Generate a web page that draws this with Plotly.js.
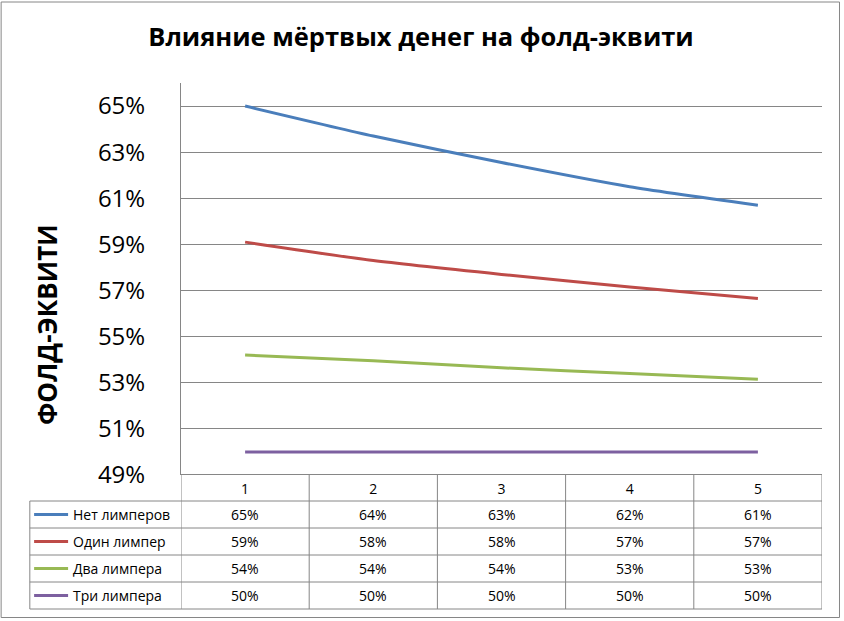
<!DOCTYPE html>
<html>
<head>
<meta charset="utf-8">
<script src="https://cdn.plot.ly/plotly-3.0.1.min.js"></script>
<style>
  html, body { margin: 0; padding: 0; background: #fff; }
  #chart { width: 844px; height: 621px; }
</style>
</head>
<body>
<div id="chart"></div>
<script>
// Chart values.
var categories = ['1', '2', '3', '4', '5'];
var seriesNames = ['Нет лимперов', 'Один лимпер', 'Два лимпера', 'Три лимпера'];
var noLimpers = [65.0, 63.7, 62.55, 61.5, 60.7];
var oneLimper = [59.1, 58.3, 57.7, 57.15, 56.65];
var twoLimpers = [54.2, 53.95, 53.65, 53.4, 53.15];
var threeLimpers = [50.0, 50.0, 50.0, 50.0, 50.0];
var yTicks = [49, 51, 53, 55, 57, 59, 61, 63, 65];
var yTickText = ['49%', '51%', '53%', '55%', '57%', '59%', '61%', '63%', '65%'];

var seriesValues = [noLimpers, oneLimper, twoLimpers, threeLimpers];
var seriesColors = ['#4a7ebb', '#be4b48', '#98b954', '#7d60a0'];

var FONT = '"Open Sans", "Noto Sans", sans-serif';
var GRID = '#868686';

// Plot area in pixels (the data table sits under it, in the bottom margin).
var W = 844, H = 621;
var plotLeft = 181, plotRight = 822.5, plotTop = 83, plotBottom = 475;
var plotW = plotRight - plotLeft, plotH = plotBottom - plotTop;

function px(p) { return (p - plotLeft) / plotW; }   // pixel x -> paper x
function py(p) { return (plotBottom - p) / plotH; } // pixel y -> paper y

var tableLeft = 29.7;
var headerTop = 474.5, rowH = 27;
var rowTops = [501, 528, 555, 582, 609];

var xs = categories.map(function (c, i) { return i + 1; });

var data = [];
for (var i = 0; i < seriesValues.length; i++) {
    data.push({
        x: xs,
        y: seriesValues[i],
        name: seriesNames[i],
        type: 'scatter',
        mode: 'lines',
        line: { color: seriesColors[i], width: 3, shape: 'spline', smoothing: 0.6 },
        hoverinfo: 'skip'
    });
}

var shapes = [];
var annotations = [];

function gridLine(xref, x0, x1, y0, y1) {
    shapes.push({ type: 'line', xref: xref, yref: 'paper', x0: x0, x1: x1, y0: y0, y1: y1,
        line: { color: GRID, width: 1 } });
}

// Table grid: header row covers the category columns only
for (var k = 0; k <= categories.length; k++) {
    gridLine('x', k + 0.5, k + 0.5, py(headerTop), py(rowTops[rowTops.length - 1]));
}
gridLine('paper', px(tableLeft), px(tableLeft), py(rowTops[0]), py(rowTops[rowTops.length - 1]));
gridLine('x', 0.5, categories.length + 0.5, py(headerTop), py(headerTop));
for (var r = 0; r < rowTops.length; r++) {
    gridLine('paper', px(tableLeft), 1, py(rowTops[r]), py(rowTops[r]));
}

// Table body: legend keys, series names and values
for (var s = 0; s < seriesValues.length; s++) {
    var yc = py(rowTops[s] + rowH / 2);
    shapes.push({ type: 'line', xref: 'paper', yref: 'paper', x0: px(34), x1: px(68), y0: yc, y1: yc,
        line: { color: seriesColors[s], width: 3 } });
    annotations.push({ xref: 'paper', yref: 'paper', x: px(71), y: yc, xanchor: 'left', yanchor: 'middle',
        text: seriesNames[s], showarrow: false, font: { family: FONT, size: 14, color: '#000' } });
    for (var c = 0; c < categories.length; c++) {
        annotations.push({ xref: 'x', yref: 'paper', x: xs[c], y: yc, xanchor: 'center', yanchor: 'middle',
            text: Math.round(seriesValues[s][c]) + '%', showarrow: false,
            font: { family: FONT, size: 14, color: '#000' } });
    }
}

// Y axis title, placed where Excel put it
annotations.push({ xref: 'paper', yref: 'paper', x: px(47), y: py(325), xanchor: 'center', yanchor: 'middle',
    text: '<b>ФОЛД-ЭКВИТИ</b>', textangle: -90, showarrow: false,
    font: { family: FONT, size: 26, color: '#000' } });

// Chart border
shapes.push({ type: 'rect', xref: 'paper', yref: 'paper', x0: px(1), x1: px(840), y0: py(2), y1: py(617.5),
    line: { color: GRID, width: 1 } });

var layout = {
    width: W,
    height: H,
    paper_bgcolor: '#fff',
    plot_bgcolor: '#fff',
    margin: { l: plotLeft, r: W - plotRight, t: plotTop, b: H - plotBottom, pad: 0 },
    showlegend: false,
    title: {
        text: '<b>Влияние мёртвых денег на фолд-эквити</b>',
        font: { family: FONT, size: 25.5, color: '#000' },
        x: 421 / W, xref: 'container', xanchor: 'center',
        y: 1 - 37 / H, yref: 'container', yanchor: 'middle'
    },
    xaxis: {
        range: [0.5, categories.length + 0.5],
        tickvals: xs,
        ticktext: categories,
        showgrid: false,
        zeroline: false,
        showline: false,
        ticks: '',
        ticklabelstandoff: 4,
        tickfont: { family: FONT, size: 14, color: '#000' },
        fixedrange: true
    },
    yaxis: {
        range: [49, 66],
        tickvals: yTicks,
        ticktext: yTickText,
        showgrid: true,
        gridcolor: GRID,
        gridwidth: 1,
        zeroline: false,
        showline: true,
        linecolor: GRID,
        linewidth: 1,
        ticks: '',
        ticklabelstandoff: 30,
        tickfont: { family: FONT, size: 24, color: '#000' },
        fixedrange: true
    },
    shapes: shapes,
    annotations: annotations
};

Plotly.newPlot('chart', data, layout, { displayModeBar: false, staticPlot: true });
</script>
</body>
</html>
